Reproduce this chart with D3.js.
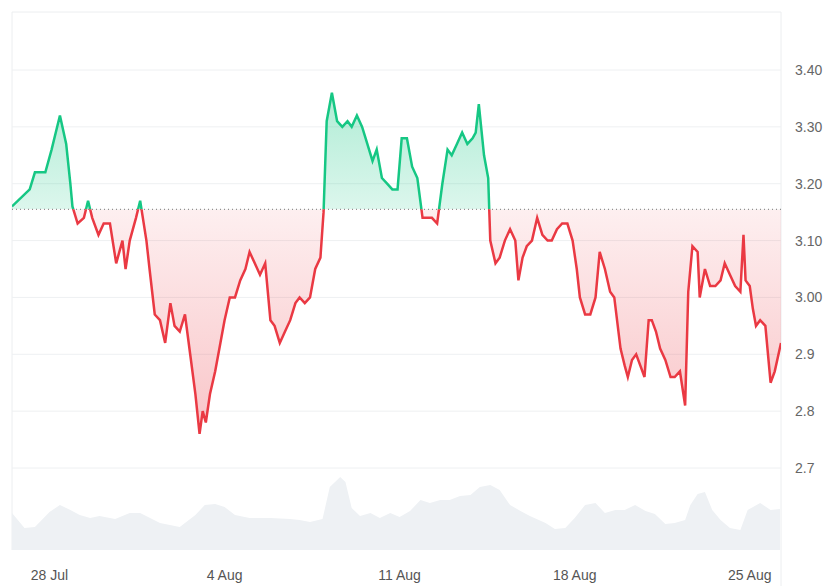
<!DOCTYPE html>
<html>
<head>
<meta charset="utf-8">
<script src="https://cdn.jsdelivr.net/npm/d3@7"></script>
<style>
body { margin: 0; background: #fff; }
text { font-family: "Liberation Sans", Arial, sans-serif; }
</style>
</head>
<body>
<svg id="chart"></svg>
<script>
// hours since 26 Jul 12:00 UTC
const priceHours = [0,17,22,32,38,46,52,56,58,63,69,73,77,83,88,94,100,106,109,113,119,123,129,132,137,142,147,152,156,161,166,171,176,180,183,186,190,195,200,204,209,214,219,224,228,233,238,243,248,252,257,262,267,272,276,281,286,291,296,299,302,307,312,317,322,326,331,336,341,346,350,355,360,365,370,374,379,384,389,394,398,403,408,413,418,422,427,432,437,442,445,448,453,457,459,464,468,473,478,483,486,490,494,499,504,509,514,518,523,528,533,538,542,545,550,555,560,564,569,574,578,584,588,591,595,599,603,607,611,614,618,622,627,632,636,641,646,649,653,658,660,665,670,675,680,684,689,694,699,702,704,708,711,714,718,723,728,732,738];
const prices = [3.16,3.19,3.22,3.22,3.26,3.32,3.27,3.20,3.16,3.13,3.14,3.17,3.14,3.11,3.13,3.13,3.06,3.10,3.05,3.10,3.14,3.17,3.10,3.05,2.97,2.96,2.92,2.99,2.95,2.94,2.97,2.90,2.83,2.76,2.80,2.78,2.83,2.87,2.92,2.96,3.00,3.00,3.03,3.05,3.08,3.06,3.04,3.06,2.96,2.95,2.92,2.94,2.96,2.99,3.00,2.99,3.00,3.05,3.07,3.15,3.31,3.36,3.31,3.30,3.31,3.30,3.32,3.30,3.27,3.24,3.26,3.21,3.20,3.19,3.19,3.28,3.28,3.23,3.21,3.14,3.14,3.14,3.13,3.20,3.26,3.25,3.27,3.29,3.27,3.28,3.29,3.34,3.25,3.21,3.10,3.06,3.07,3.10,3.12,3.10,3.03,3.07,3.09,3.10,3.14,3.11,3.10,3.10,3.12,3.13,3.13,3.10,3.05,3.00,2.97,2.97,3.00,3.08,3.05,3.01,3.00,2.91,2.88,2.86,2.89,2.90,2.88,2.86,2.96,2.96,2.94,2.91,2.89,2.86,2.86,2.87,2.81,3.01,3.09,3.08,3.00,3.05,3.02,3.02,3.03,3.06,3.04,3.02,3.01,3.11,3.03,3.02,2.98,2.95,2.96,2.95,2.85,2.87,2.92];
const volumeHours = [0,12,22,36,46,56,65,75,84,99,113,123,142,161,176,185,195,204,214,228,248,267,276,286,298,305,315,320,326,334,344,353,363,372,382,392,401,411,420,430,440,449,459,468,478,488,497,512,521,531,540,550,560,569,579,588,598,608,617,627,636,646,651,658,665,672,680,689,699,706,718,728,737];
const volumes = [37,22,23,38,45,40,35,32,34,31,37,37,27,23,35,45,46,43,35,32,32,31,30,28,31,63,73,68,42,34,37,32,37,33,39,50,47,50,50,54,55,63,65,60,45,39,34,27,21,22,32,45,47,37,40,40,45,39,36,26,27,30,45,56,58,40,30,22,20,40,47,40,41];
const baseline = 3.155;
const yTicks = [3.4, 3.3, 3.2, 3.1, 3.0, 2.9, 2.8, 2.7];
const yTickLabels = ["3.40", "3.30", "3.20", "3.10", "3.00", "2.9", "2.8", "2.7"];
const xTicks = ["2025-07-28", "2025-08-04", "2025-08-11", "2025-08-18", "2025-08-25"];
const xTickLabels = ["28 Jul", "4 Aug", "11 Aug", "18 Aug", "25 Aug"];

const width = 840, height = 586;
const left = 12, right = 781;
const start = Date.UTC(2025, 6, 26, 12);
const hourMs = 3600 * 1000;

const svg = d3.select("#chart").attr("width", width).attr("height", height);

const x = d3.scaleUtc()
    .domain([new Date(start), new Date(start + 738 * hourMs)])
    .range([left, right]);
const y = d3.scaleLinear().domain([2.7, 3.4]).range([468, 70]);
const yVol = d3.scaleLinear().domain([0, 80]).range([550, 470]);

const pts = priceHours.map((h, i) => ({ t: new Date(start + h * hourMs), v: prices[i] }));
const vols = volumeHours.map((h, i) => ({ t: new Date(start + h * hourMs), v: volumes[i] }));

// frame
svg.append("line").attr("x1", left).attr("x2", right).attr("y1", 12).attr("y2", 12).attr("stroke", "#eceef0");
svg.append("line").attr("x1", left).attr("x2", left).attr("y1", 12).attr("y2", 550).attr("stroke", "#eceef0");
svg.append("line").attr("x1", right).attr("x2", right).attr("y1", 12).attr("y2", 586).attr("stroke", "#eceef0");

// grid
svg.append("g").selectAll("line").data(yTicks).enter().append("line")
    .attr("x1", left).attr("x2", right)
    .attr("y1", d => y(d)).attr("y2", d => y(d))
    .attr("stroke", "#eef0f2");

svg.append("g").selectAll("text").data(yTicks).enter().append("text")
    .attr("x", 795).attr("y", d => y(d) + 5)
    .attr("fill", "#666").attr("font-size", 14)
    .text((d, i) => yTickLabels[i]);

// volume
svg.append("path").datum(vols)
    .attr("fill", "#eef1f4")
    .attr("d", d3.area().x(d => x(d.t)).y0(550).y1(d => yVol(d.v)));

const defs = svg.append("defs");
defs.append("clipPath").attr("id", "above").append("rect")
    .attr("x", left).attr("y", 0).attr("width", right - left).attr("height", y(baseline));
defs.append("clipPath").attr("id", "below").append("rect")
    .attr("x", left).attr("y", y(baseline)).attr("width", right - left).attr("height", height);

const gg = defs.append("linearGradient").attr("id", "gGreen").attr("x1", 0).attr("x2", 0).attr("y1", 0).attr("y2", 1)
    .attr("gradientUnits", "userSpaceOnUse").attr("y1", y(3.37)).attr("y2", y(baseline));
gg.append("stop").attr("offset", 0).attr("stop-color", "#16c784").attr("stop-opacity", 0.35);
gg.append("stop").attr("offset", 1).attr("stop-color", "#16c784").attr("stop-opacity", 0.15);
const gr = defs.append("linearGradient").attr("id", "gRed").attr("x1", 0).attr("x2", 0)
    .attr("gradientUnits", "userSpaceOnUse").attr("y1", y(baseline)).attr("y2", y(2.75));
gr.append("stop").attr("offset", 0).attr("stop-color", "#ea3943").attr("stop-opacity", 0.08);
gr.append("stop").attr("offset", 1).attr("stop-color", "#ea3943").attr("stop-opacity", 0.3);

const area = d3.area().x(d => x(d.t)).y0(y(baseline)).y1(d => y(d.v));
const line = d3.line().x(d => x(d.t)).y(d => y(d.v));

svg.append("path").datum(pts).attr("clip-path", "url(#above)").attr("fill", "url(#gGreen)").attr("d", area);
svg.append("path").datum(pts).attr("clip-path", "url(#below)").attr("fill", "url(#gRed)").attr("d", area);

svg.append("line").attr("x1", left).attr("x2", right)
    .attr("y1", y(baseline)).attr("y2", y(baseline))
    .attr("stroke", "#777").attr("stroke-dasharray", "1,3");

svg.append("path").datum(pts).attr("clip-path", "url(#above)")
    .attr("fill", "none").attr("stroke", "#16c784").attr("stroke-width", 2.5).attr("d", line);
svg.append("path").datum(pts).attr("clip-path", "url(#below)")
    .attr("fill", "none").attr("stroke", "#ea3943").attr("stroke-width", 2.5).attr("d", line);

// x labels
svg.append("g").selectAll("text").data(xTicks).enter().append("text")
    .attr("x", d => x(new Date(d + "T00:00:00Z")))
    .attr("y", 580).attr("text-anchor", "middle")
    .attr("fill", "#555").attr("font-size", 14)
    .text((d, i) => xTickLabels[i]);
</script>
</body>
</html>
